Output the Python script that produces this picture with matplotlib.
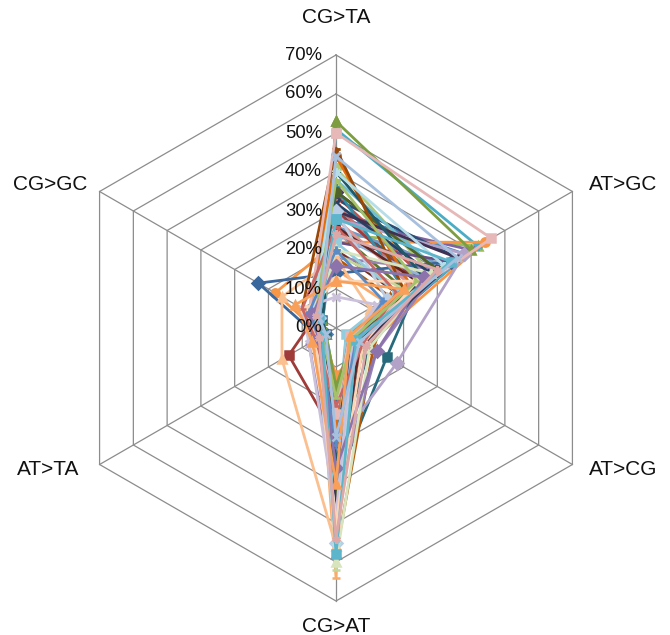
import matplotlib.pyplot as plt
import matplotlib.path as mpath
import numpy as np

plt.rcParams['font.family'] = ['Liberation Sans', 'DejaVu Sans']

# categories, clockwise from the top
categories = ['CG>TA', 'AT>GC', 'AT>CG', 'CG>AT', 'AT>TA', 'CG>GC']
tick_values = [0, 10, 20, 30, 40, 50, 60, 70]

# series values in %, order as categories
s00 = [30, 38, 6, 22, 3, 5]
s01 = [34, 26, 5, 30, 4, 6]
s02 = [24, 42, 4, 28, 3, 5]
s03 = [28, 40, 8, 26, 4, 6]
s04 = [51, 42, 7, 15, 3, 5]
s05 = [22, 44, 9, 12, 4, 18]
s06 = [33, 36, 5, 40, 4, 5]
s07 = [20, 18, 5, 48, 6, 6]
s08 = [25, 20, 4, 47, 4, 5]
s09 = [35, 30, 7, 35, 5, 6]
s10 = [30, 25, 15, 40, 3, 4]
s11 = [18, 16, 11, 58, 5, 7]
s12 = [26, 32, 4, 42, 3, 4]
s13 = [32, 22, 6, 36, 5, 6]
s14 = [41, 28, 9, 25, 5, 7]
s15 = [18, 30, 12, 44, 8, 6]
s16 = [38, 30, 3, 32, 6, 8]
s17 = [15, 14, 4, 64, 5, 7]
s18 = [14, 34, 6, 18, 5, 23]
s19 = [30, 24, 8, 28, 14, 6]
s20 = [53, 40, 5, 15, 3, 4]
s21 = [22, 34, 6, 38, 3, 5]
s22 = [36, 20, 4, 52, 3, 4]
s23 = [44, 22, 5, 25, 4, 8]
s24 = [24, 26, 4, 50, 5, 6]
s25 = [28, 22, 6, 40, 6, 8]
s26 = [19, 20, 4, 62, 4, 5]
s27 = [28, 38, 18, 30, 4, 6]
s28 = [22, 18, 3, 45, 4, 6]
s29 = [18, 10, 6, 56, 16, 16]
s30 = [32, 28, 5, 30, 4, 5]
s31 = [26, 24, 7, 48, 6, 5]
s32 = [35, 30, 6, 42, 4, 5]
s33 = [30, 36, 8, 46, 5, 6]
s34 = [40, 26, 10, 34, 3, 4]
s35 = [46, 20, 4, 22, 6, 10]
s36 = [30, 15, 5, 55, 6, 5]
s37 = [50, 46, 4, 22, 5, 8]
s38 = [20, 28, 10, 60, 4, 6]
s39 = [8, 12, 5, 48, 8, 10]
s40 = [40, 32, 6, 55, 4, 7]
s41 = [12, 24, 8, 50, 6, 9]
s42 = [20, 14, 6, 30, 5, 8]
s43 = [26, 18, 8, 20, 6, 10]
s44 = [38, 24, 5, 18, 4, 6]
s45 = [16, 26, 12, 36, 5, 7]
s46 = [28, 34, 6, 58, 4, 5]
s47 = [12, 20, 4, 40, 7, 12]
s48 = [44, 36, 7, 28, 3, 5]
s49 = [24, 30, 9, 54, 5, 6]

series = [s00, s01, s02, s03, s04, s05, s06, s07, s08, s09, s10, s11, s12, s13,
          s14, s15, s16, s17, s18, s19, s20, s21, s22, s23, s24, s25, s26, s27,
          s28, s29, s30, s31, s32, s33, s34, s35, s36, s37, s38, s39, s40, s41,
          s42, s43, s44, s45, s46, s47, s48, s49]

# office style colour cycle: 6 accents x variants
families = [
    ['#4F81BD', '#2C4D75', '#729ACA', '#3A679C', '#95B3D7', '#254061', '#B9CDE5', '#5B8BC6', '#A7C0DE'],
    ['#C0504D', '#772C2A', '#CD7371', '#9F3B38', '#D99694', '#632523', '#E6B9B8', '#C96562', '#DDA9A8'],
    ['#9BBB59', '#5F7530', '#AFC97A', '#7E9D40', '#C3D69B', '#4F6228', '#D7E4BD', '#A5C26A', '#CBDCAB'],
    ['#8064A2', '#4D3B62', '#9983B5', '#664F83', '#B3A2C7', '#403152', '#CCC1DA', '#8C73AC', '#BFB1D0'],
    ['#4BACC6', '#276A7C', '#6FBDD1', '#358EA6', '#93CDDD', '#215968', '#B7DEE8', '#5DB5CC', '#A5D5E2'],
    ['#F79646', '#B65708', '#F9AB6B', '#E46C0A', '#FAC090', '#984807', '#FCD5B5', '#F8A05A', '#FBCAA2'],
]
longdash = mpath.Path([(-1.6, 0), (1.6, 0)], [mpath.Path.MOVETO, mpath.Path.LINETO])
markers = ['D', 's', '^', 'x', (6, 2, 0), 'o', '+', '_', longdash]

fig = plt.figure(figsize=(6.7, 6.35), dpi=100)
ax = fig.add_axes([0, 0, 1, 1])
ax.set_xlim(-336 / 3.9, 334 / 3.9)
ax.set_ylim(-307 / 3.9, 328 / 3.9)
ax.axis('off')

n = len(categories)
ang = np.pi / 2 - 2 * np.pi * np.arange(n) / n
ca = np.append(np.cos(ang), np.cos(ang[0]))
sa = np.append(np.sin(ang), np.sin(ang[0]))

# hexagon grid and spokes
for r in tick_values[1:]:
    ax.plot(r * ca, r * sa, color='#8C8C8C', lw=0.9, zorder=1)
for k in range(n):
    ax.plot([0, 70 * ca[k]], [0, 70 * sa[k]], color='#8C8C8C', lw=0.9, zorder=1)

for i, vals in enumerate(series):
    v = np.append(vals, vals[0])
    col = families[i % 6][i // 6]
    mk = markers[i % 9]
    ax.plot(v * ca, v * sa, color=col, lw=2.0, marker=mk, ms=6,
            mec=col, mfc=col, mew=1.8, zorder=2 + i)

for t in tick_values:
    ax.text(-3.6, t, '%d%%' % t, ha='right', va='center', fontsize=13.3,
            color='#111111', zorder=100)

label_pos = [(0, 79.5), (73.5, 36.7), (73.5, -36.2), (0, -76.5), (-73.8, -36.2), (-73.3, 36.7)]
for name, (lx, ly) in zip(categories, label_pos):
    ax.text(lx, ly, name, ha='center', va='center', fontsize=15, color='#111111')

fig.savefig('out.png', dpi=100)
